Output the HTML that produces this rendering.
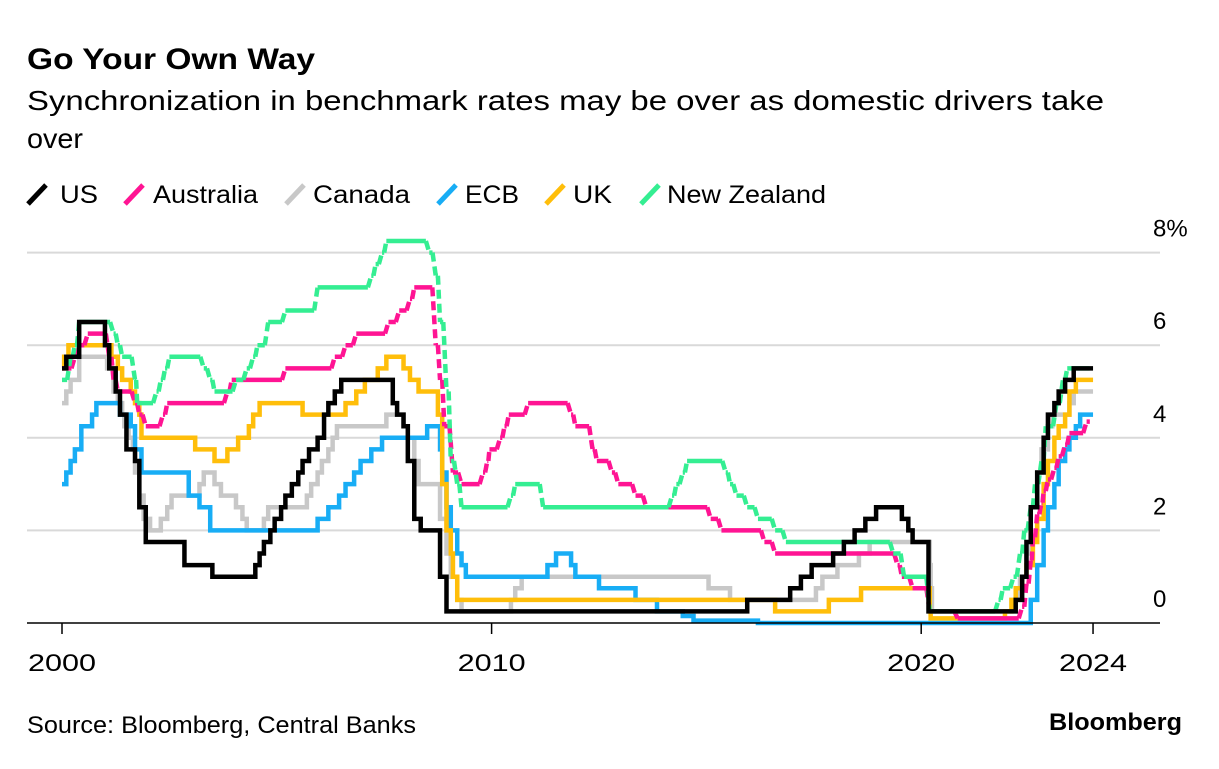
<!DOCTYPE html>
<html><head><meta charset="utf-8">
<style>
body{margin:0;background:#fff;width:1219px;height:764px;overflow:hidden;font-family:"Liberation Sans",Arial,sans-serif;}
</style></head>
<body>
<svg width="1219" height="764" xmlns="http://www.w3.org/2000/svg" id="chart">
<text x="27" y="69" font-size="30" font-weight="bold" fill="#000" textLength="288" lengthAdjust="spacingAndGlyphs">Go Your Own Way</text>
<text x="27" y="110" font-size="28" fill="#000" textLength="1077" lengthAdjust="spacingAndGlyphs">Synchronization in benchmark rates may be over as domestic drivers take</text>
<text x="27" y="148" font-size="28" fill="#000" textLength="56" lengthAdjust="spacingAndGlyphs">over</text>
<g id="legend"></g>
<g id="grid"></g>
<g id="series"></g>
<g id="axes"></g>
<text x="27" y="733" font-size="24" fill="#000" textLength="389" lengthAdjust="spacingAndGlyphs">Source: Bloomberg, Central Banks</text>
<text x="1049" y="730" font-size="24" font-weight="bold" fill="#000" textLength="133" lengthAdjust="spacingAndGlyphs">Bloomberg</text>
</svg>
<script>
const yTicks=[0,2,4,6,8];
const yTickLabels=["0","2","4","6","8%"];
const xTicks=[2000,2010,2020,2024];
const xTickLabels=["2000","2010","2020","2024"];
const seriesNames=["US","Australia","Canada","ECB","UK","New Zealand"];
const seriesColors=["#000000","#ff1493","#c8c8c8","#18adf5","#ffbe0a","#34ee92"];
const usT=[2000,2000.1,2000.4,2001.0,2001.1,2001.25,2001.35,2001.5,2001.7,2001.8,2001.95,2002.85,2003.5,2004.5,2004.6,2004.7,2004.85,2004.95,2005.1,2005.2,2005.35,2005.5,2005.6,2005.75,2005.95,2006.1,2006.2,2006.35,2006.5,2007.7,2007.8,2007.95,2008.05,2008.2,2008.35,2008.8,2008.95,2015.95,2016.95,2017.2,2017.45,2017.95,2018.2,2018.45,2018.7,2018.95,2019.55,2019.7,2019.8,2020.17,2022.2,2022.35,2022.45,2022.55,2022.7,2022.85,2022.95,2023.1,2023.2,2023.35,2023.55,2024];
const usV=[5.5,5.75,6.5,6.0,5.5,5.0,4.5,3.75,3.5,2.5,1.75,1.25,1.0,1.25,1.5,1.75,2.0,2.25,2.5,2.75,3.0,3.25,3.5,3.75,4.0,4.5,4.75,5.0,5.25,4.75,4.5,4.25,3.5,2.25,2.0,1.0,0.25,0.5,0.75,1.0,1.25,1.5,1.75,2.0,2.25,2.5,2.25,2.0,1.75,0.25,0.5,1.0,1.75,2.5,3.25,4.0,4.5,4.75,5.0,5.25,5.5,5.5];
const auT=[2000,2000.1,2000.3,2000.4,2000.6,2001.1,2001.2,2001.3,2001.7,2001.8,2001.95,2002.35,2002.45,2003.85,2003.95,2005.2,2006.35,2006.6,2006.85,2007.6,2007.85,2008.1,2008.2,2008.7,2008.8,2008.9,2009.1,2009.3,2009.8,2009.9,2009.95,2010.2,2010.3,2010.4,2010.85,2011.85,2011.95,2012.35,2012.45,2012.8,2012.95,2013.35,2013.6,2015.1,2015.35,2016.35,2016.6,2019.45,2019.55,2019.8,2020.2,2020.85,2022.35,2022.45,2022.55,2022.6,2022.7,2022.8,2022.85,2022.95,2023.1,2023.2,2023.35,2023.45,2023.85,2024];
const auV=[5.5,5.5,5.75,6.0,6.25,5.75,5.25,5.0,4.75,4.5,4.25,4.5,4.75,5.0,5.25,5.5,5.75,6.0,6.25,6.5,6.75,7.0,7.25,6.0,5.25,4.25,3.25,3.0,3.25,3.5,3.75,4.0,4.25,4.5,4.75,4.5,4.25,3.75,3.5,3.25,3.0,2.75,2.5,2.25,2.0,1.75,1.5,1.25,1.0,0.75,0.25,0.1,0.35,0.85,1.35,1.85,2.35,2.6,2.85,3.1,3.35,3.6,3.85,4.1,4.35,4.35];
const caT=[2000,2000.1,2000.2,2000.4,2001.05,2001.2,2001.3,2001.4,2001.45,2001.55,2001.65,2001.7,2001.8,2001.9,2002.05,2002.3,2002.45,2002.55,2003.2,2003.3,2003.55,2003.7,2004.05,2004.2,2004.3,2004.7,2004.8,2005.7,2005.8,2005.95,2006.05,2006.2,2006.3,2006.4,2007.55,2007.95,2008.05,2008.2,2008.3,2008.8,2008.95,2009.05,2009.2,2009.3,2010.45,2010.55,2010.7,2015.05,2015.55,2017.55,2017.7,2018.05,2018.55,2018.8,2020.2,2020.22,2020.25,2022.2,2022.3,2022.45,2022.55,2022.7,2022.8,2022.95,2023.05,2023.45,2023.55,2024];
const caV=[4.75,5.0,5.25,5.75,5.5,5.0,4.75,4.5,4.25,4.0,3.75,3.25,2.75,2.25,2.0,2.25,2.5,2.75,3.0,3.25,3.0,2.75,2.5,2.25,2.0,2.25,2.5,2.75,3.0,3.25,3.5,3.75,4.0,4.25,4.5,4.25,4.0,3.5,3.0,2.25,1.5,1.0,0.5,0.25,0.5,0.75,1.0,0.75,0.5,0.75,1.0,1.25,1.5,1.75,1.25,0.75,0.25,0.5,1.0,1.5,2.5,3.25,3.75,4.25,4.5,4.75,5.0,5.0];
const ecbT=[2000,2000.1,2000.2,2000.3,2000.45,2000.7,2000.8,2001.35,2001.6,2001.7,2001.85,2002.95,2003.2,2003.45,2005.95,2006.2,2006.45,2006.6,2006.8,2006.95,2007.2,2007.45,2008.5,2008.8,2008.85,2008.95,2009.05,2009.2,2009.3,2009.4,2011.3,2011.5,2011.85,2011.95,2012.5,2013.35,2013.85,2014.45,2014.7,2016.2,2022.55,2022.7,2022.85,2022.95,2023.1,2023.2,2023.35,2023.45,2023.6,2023.7,2024];
const ecbV=[3.0,3.25,3.5,3.75,4.25,4.5,4.75,4.5,4.25,3.75,3.25,2.75,2.5,2.0,2.25,2.5,2.75,3.0,3.25,3.5,3.75,4.0,4.25,3.75,3.25,2.5,2.0,1.5,1.25,1.0,1.25,1.5,1.25,1.0,0.75,0.5,0.25,0.15,0.05,0.0,0.5,1.25,2.0,2.5,3.0,3.5,3.75,4.0,4.25,4.5,4.5];
const ukT=[2000,2000.05,2000.15,2001.15,2001.3,2001.4,2001.6,2001.7,2001.8,2001.85,2003.1,2003.55,2003.85,2004.1,2004.35,2004.45,2004.6,2005.6,2006.6,2006.85,2007.05,2007.35,2007.55,2007.95,2008.1,2008.3,2008.75,2008.85,2008.95,2009.05,2009.1,2009.2,2016.6,2017.85,2018.6,2020.2,2020.22,2021.95,2022.1,2022.2,2022.35,2022.45,2022.6,2022.7,2022.85,2022.95,2023.1,2023.2,2023.35,2023.45,2023.6,2024];
const ukV=[5.5,5.75,6.0,5.75,5.5,5.25,5.0,4.75,4.5,4.0,3.75,3.5,3.75,4.0,4.25,4.5,4.75,4.5,4.75,5.0,5.25,5.5,5.75,5.5,5.25,5.0,4.5,3.0,2.0,1.5,1.0,0.5,0.25,0.5,0.75,0.25,0.1,0.25,0.5,0.75,1.0,1.25,1.75,2.25,3.0,3.5,4.0,4.25,4.5,5.0,5.25,5.25];
const nzT=[2000,2000.2,2000.3,2000.4,2001.2,2001.3,2001.4,2001.7,2001.75,2002.2,2002.3,2002.4,2002.5,2003.3,2003.45,2003.55,2004.05,2004.3,2004.45,2004.55,2004.8,2005.2,2005.95,2007.2,2007.3,2007.45,2007.55,2008.55,2008.7,2008.8,2008.95,2009.05,2009.2,2009.3,2010.45,2010.55,2011.2,2014.2,2014.3,2014.45,2014.55,2015.45,2015.55,2015.7,2015.95,2016.2,2016.6,2016.85,2019.35,2019.6,2020.2,2021.8,2021.9,2022.15,2022.3,2022.4,2022.55,2022.65,2022.8,2022.9,2023.15,2023.3,2023.4,2024];
const nzV=[5.25,5.75,6.0,6.5,6.25,6.0,5.75,5.25,4.75,5.0,5.25,5.5,5.75,5.5,5.25,5.0,5.25,5.5,5.75,6.0,6.5,6.75,7.25,7.5,7.75,8.0,8.25,8.0,7.5,6.5,5.0,3.5,3.0,2.5,2.75,3.0,2.5,2.75,3.0,3.25,3.5,3.25,3.0,2.75,2.5,2.25,2.0,1.75,1.5,1.0,0.25,0.5,0.75,1.0,1.5,2.0,2.5,3.0,3.5,4.25,4.75,5.25,5.5,5.5];

const NS="http://www.w3.org/2000/svg";
const X0=62,PXY=42.96,Y0=623,PXV=46.3,PL=27,PR=1160;
function xs(t){return X0+(t-2000)*PXY;}
function ys(v){return Y0-v*PXV;}
function mk(tag,attrs,parent){const e=document.createElementNS(NS,tag);for(const k in attrs)e.setAttribute(k,attrs[k]);parent.appendChild(e);return e;}

const grid=document.getElementById('grid');
yTicks.forEach((v,i)=>{
  if(v>0){const l=mk('line',{x1:PL,x2:PR,y1:ys(v),y2:ys(v),stroke:'#d9d9d9','stroke-width':2},grid);
  
  }
  const t=mk('text',{x:1153,y:ys(v)-16,'font-size':24,fill:'#000'},grid);
  t.textContent=yTickLabels[i];
  
  
});
const axes=document.getElementById('axes');
const ax=mk('line',{x1:PL,x2:PR,y1:Y0,y2:Y0,stroke:'#000','stroke-width':1.5},axes);


xTicks.forEach((yr,i)=>{
  const tk=mk('line',{x1:xs(yr),x2:xs(yr),y1:Y0,y2:Y0+11,stroke:'#000','stroke-width':1.5},axes);
  
  
  const t=mk('text',{x:xs(yr),y:Y0+48,'font-size':24,fill:'#000','text-anchor':'middle',textLength:68,lengthAdjust:'spacingAndGlyphs'},axes);
  t.textContent=xTickLabels[i];
  
  
});

const ser=document.getElementById('series');
const allT=[usT,auT,caT,ecbT,ukT,nzT],allV=[usV,auV,caV,ecbV,ukV,nzV];
const dashed=[false,true,false,false,false,true];
const order=[2,3,4,1,5,0];
order.forEach(i=>{
  const T=allT[i],V=allV[i],c=seriesColors[i];
  if(!dashed[i]){
    let d='M'+xs(T[0])+','+ys(V[0]);
    for(let k=1;k<T.length;k++){d+=' H'+xs(T[k])+' V'+ys(V[k]);}
    const p=mk('path',{d:d,fill:'none',stroke:c,'stroke-width':4.5,'stroke-linejoin':'miter'},ser);
    
    
  } else {
    const g=mk('g',{},ser);
    
    
    let solid='',dash='';
    for(let k=0;k<T.length-1;k++){
      const gap=T[k+1]-T[k];
      const tEnd=T[k+1]-Math.min(0.08,gap*0.5);
      if(tEnd>T[k]) solid+='M'+xs(T[k])+','+ys(V[k])+' L'+xs(tEnd)+','+ys(V[k])+' ';
      if(V[k+1]!==V[k]) dash+='M'+xs(tEnd)+','+ys(V[k])+' L'+xs(T[k+1])+','+ys(V[k+1])+' ';
    }
    mk('path',{d:solid,fill:'none',stroke:c,'stroke-width':4.5},g);
    mk('path',{d:dash,fill:'none',stroke:c,'stroke-width':4.5,'stroke-dasharray':'9 5'},g);
  }
});

const leg=document.getElementById('legend');
const legIconX=[28,125,286,438,546,641];
const legTextX=[60,153,313,465,573,667];
const legTextW=[38,105,97,54,39,159];
seriesNames.forEach((n,i)=>{
  const g=mk('g',{},leg);
  
  
  mk('line',{x1:legIconX[i],y1:204,x2:legIconX[i]+18,y2:185,stroke:seriesColors[i],'stroke-width':5},g);
  const t=mk('text',{x:legTextX[i],y:203,'font-size':25,fill:'#000',textLength:legTextW[i],lengthAdjust:'spacingAndGlyphs'},g);
  t.textContent=n;
});
</script>
</body></html>
